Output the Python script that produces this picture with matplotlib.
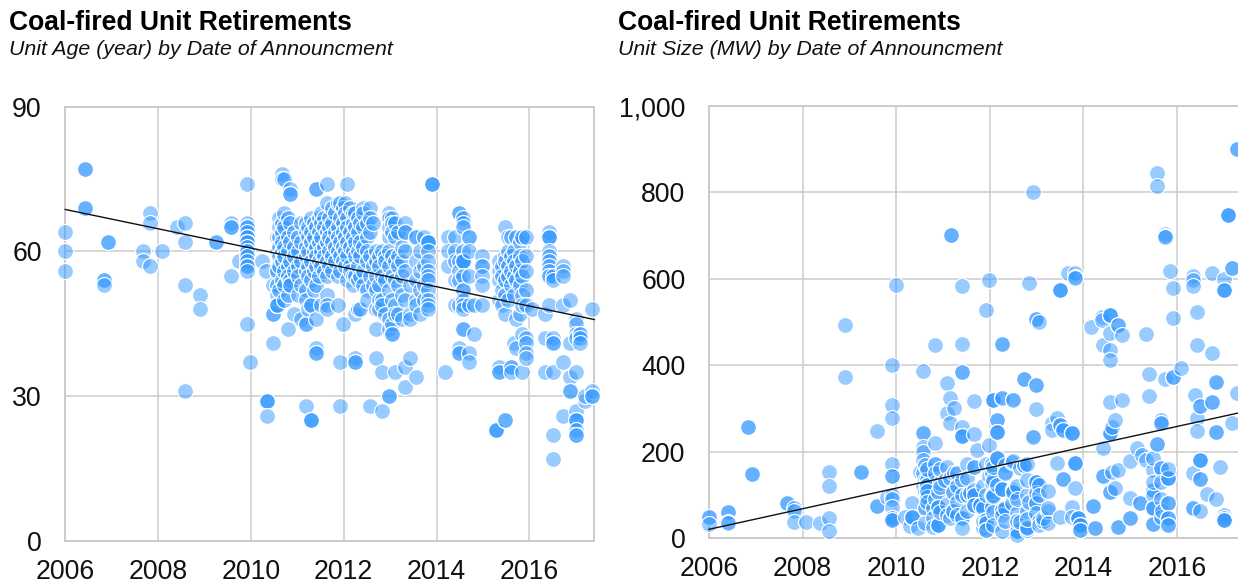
import numpy as np
import matplotlib.pyplot as plt

plt.rcParams['font.family'] = ['Liberation Sans', 'DejaVu Sans']

# =========================
# Data, one row per announcement date
# =========================
age_dates = [
    2006.0, 2006.42, 2006.83, 2006.91, 2007.67, 2007.83, 2008.08, 2008.4, 2008.57, 2008.9,
    2009.24, 2009.57, 2009.75, 2009.91, 2009.97, 2010.24, 2010.32, 2010.35, 2010.48, 2010.56,
    2010.6, 2010.66, 2010.72, 2010.79, 2010.84, 2010.93, 2011.02, 2011.08, 2011.18, 2011.24,
    2011.3, 2011.36, 2011.41, 2011.46, 2011.52, 2011.57, 2011.63, 2011.69, 2011.75, 2011.81,
    2011.87, 2011.92, 2011.98, 2012.03, 2012.08, 2012.14, 2012.19, 2012.25, 2012.3, 2012.36,
    2012.42, 2012.5, 2012.57, 2012.64, 2012.7, 2012.77, 2012.83, 2012.9, 2012.97, 2013.03,
    2013.1, 2013.17, 2013.26, 2013.32, 2013.43, 2013.56, 2013.64, 2013.74, 2013.82, 2013.9,
    2014.18, 2014.24, 2014.4, 2014.48, 2014.58, 2014.7, 2014.8, 2014.98, 2015.28, 2015.35,
    2015.42, 2015.48, 2015.54, 2015.6, 2015.66, 2015.72, 2015.79, 2015.85, 2015.92, 2016.05,
    2016.34, 2016.42, 2016.5, 2016.72, 2016.87, 2017.0, 2017.1, 2017.2, 2017.36,
]
age_years = [
    [64, 60, 56], [77, 77, 69, 69], [54, 54, 53], [62, 62], [60, 58], [68, 66, 57], [60], [65],
    [66, 62, 53, 31], [51, 48],
    [62, 62], [66, 65, 65, 55], [58],
    [74, 66, 65, 65, 64, 63, 63, 62, 62, 61, 60, 60, 59, 58, 57, 57, 56, 45],
    [37], [58], [56], [29, 29, 29, 26], [53, 47, 47, 41],
    [63, 60, 56, 56, 53, 51, 49, 49, 49],
    [67, 65, 63, 61, 59, 57, 52],
    [76, 75, 66, 64, 62, 60, 58, 54],
    [75, 68, 65, 61, 59, 56, 53, 50],
    [67, 63, 60, 57, 55, 51, 44],
    [73, 72, 72, 66, 62, 58, 54, 53, 53],
    [64, 61, 59, 56, 47],
    [63, 60, 57, 55, 51],
    [66, 62, 58, 53, 46],
    [66, 64, 61, 59, 56, 52, 50, 45, 45, 28],
    [65, 63, 60, 57, 55, 48],
    [67, 64, 62, 58, 54, 49, 49, 25, 25, 25],
    [66, 63, 60, 56, 52],
    [73, 73, 65, 61, 59, 57, 53, 46, 40, 39, 39],
    [67, 64, 62, 58, 55],
    [68, 66, 63, 60, 57, 49],
    [67, 65, 61, 59, 56],
    [74, 70, 64, 62, 58, 55, 51, 49, 48],
    [67, 65, 63, 60, 57],
    [69, 66, 62, 59, 56],
    [68, 64, 61, 58],
    [70, 65, 63, 60, 55, 49],
    [70, 67, 62, 59, 56, 37, 28],
    [69, 66, 64, 61, 58, 45],
    [70, 68, 63, 60, 57],
    [74, 67, 65, 62, 59, 54],
    [69, 64, 61, 57, 56],
    [68, 66, 63, 60, 55, 53],
    [68, 65, 62, 59, 55, 47, 38, 37, 37],
    [67, 64, 60, 57, 54, 48],
    [66, 62, 59, 55, 48],
    [69, 68, 65, 61, 56, 53],
    [66, 63, 60, 58, 52, 50],
    [69, 67, 64, 59, 55, 28],
    [66, 57, 53],
    [60, 58, 55, 52, 48, 44, 38],
    [59, 57, 53, 50, 48],
    [60, 55, 50, 49, 35, 27],
    [59, 58, 54, 47],
    [68, 67, 65, 63, 60, 57, 52, 46, 44, 30, 30],
    [67, 66, 64, 59, 55, 50, 45, 43, 43],
    [66, 63, 58, 54, 49, 47, 35],
    [64, 59, 57, 53, 47],
    [61, 58, 55, 51, 46],
    [66, 64, 64, 60, 56, 50, 36, 32],
    [38, 53, 47, 46],
    [63, 63, 58, 54, 50, 49, 34],
    [60, 56, 52, 47],
    [63, 57, 53, 50],
    [62, 62, 62, 62, 60, 58, 56, 55, 54, 52, 50, 49, 48],
    [74, 74, 74], [35], [63, 60, 57], [63, 60, 58, 54, 49],
    [68, 68, 58, 56, 54, 49, 40, 39, 39],
    [67, 66, 65, 60, 58, 58, 58, 58, 55, 52, 52, 50, 49, 48, 44, 44],
    [63, 63, 60, 55, 49, 39, 37], [49, 43], [59, 57, 57, 55, 53, 49],
    [23, 23, 23], [58, 56, 54, 50, 36, 35, 35],
    [57, 55, 52, 49], [65, 59, 58, 54, 51, 47, 25, 25], [63, 60, 57, 55, 50],
    [63, 59, 56, 53, 36, 36, 35], [60, 58, 55, 51, 41], [63, 57, 54, 46, 40],
    [62, 59, 56, 53, 47], [63, 63, 58, 55, 51, 49, 43, 35],
    [63, 59, 56, 52, 49, 42, 41, 39, 38],
    [48], [47, 42, 35], [64, 63, 63, 63, 60, 59, 58, 57, 56, 55, 55, 49],
    [55, 54, 42, 41, 41, 35, 22, 17], [57, 56, 55, 49, 37, 26],
    [50, 41, 34, 31, 31], [46, 45, 43, 42, 35, 27, 25, 25, 25, 23, 22, 22],
    [43, 43, 42, 41], [29, 30], [48, 31, 30, 30],
]

size_dates = [
    2006.0, 2006.4, 2006.83, 2006.92, 2007.67, 2007.82, 2008.07, 2008.37, 2008.57, 2008.9,
    2009.25, 2009.59, 2009.8, 2009.91, 2010.0, 2010.19, 2010.29, 2010.34, 2010.47, 2010.51,
    2010.57, 2010.62, 2010.66, 2010.79, 2010.83, 2010.89, 2010.94, 2011.04, 2011.09, 2011.15,
    2011.17, 2011.21, 2011.24, 2011.3, 2011.41, 2011.51, 2011.58, 2011.66, 2011.73, 2011.79,
    2011.85, 2011.92, 2011.98, 2012.05, 2012.07, 2012.15, 2012.26, 2012.32, 2012.47, 2012.5,
    2012.58, 2012.65, 2012.73, 2012.79, 2012.84, 2012.92, 2012.99, 2013.05, 2013.14, 2013.24,
    2013.33, 2013.44, 2013.5, 2013.56, 2013.67, 2013.76, 2013.82, 2013.88, 2013.93, 2014.16,
    2014.2, 2014.25, 2014.4, 2014.42, 2014.57, 2014.61, 2014.68, 2014.74, 2014.82, 2015.0,
    2015.15, 2015.21, 2015.25, 2015.34, 2015.4, 2015.49, 2015.57, 2015.66, 2015.68, 2015.74,
    2015.81, 2015.85, 2015.91, 2016.09, 2016.34, 2016.38, 2016.43, 2016.49, 2016.64, 2016.75,
    2016.83, 2016.92, 2017.0, 2017.09, 2017.18, 2017.29,
]
size_mw = [
    [50, 50, 32], [60, 60, 38, 35], [257, 257], [148, 148], [82, 82], [69, 64, 38], [38], [35],
    [154, 121, 46, 18], [493, 372],
    [154, 154], [248, 75, 75], [96], [402, 308, 278, 172, 143, 143, 100, 92, 73, 46, 46, 42, 42],
    [585], [50], [28], [81, 50, 50, 50], [23], [154],
    [387, 247, 243, 212, 200, 180, 150, 120], [170, 135, 69, 69, 35, 108],
    [135, 135, 123, 123, 123, 96, 96, 160, 110, 85], [69, 46, 27],
    [446, 220, 171, 171, 150, 90], [108, 73, 73, 73, 31, 31, 31], [127, 160, 118, 60], [135],
    [359, 289, 165, 80, 55], [324, 266, 139, 46], [702, 702], [108, 108, 63, 63], [302, 150], [150, 120, 85, 55],
    [584, 450, 384, 384, 258, 237, 237, 237, 135, 100, 46, 46, 23], [173, 100, 140, 62],
    [104, 104], [318, 241, 166, 166, 112, 100, 100, 77, 77], [204], [77, 77, 77], [23, 120, 70, 40],
    [527, 173, 100, 42, 42, 35, 19, 19], [597, 216, 143],
    [173, 150, 127, 100, 73], [320, 320, 320, 135, 100, 97, 165, 60, 30],
    [274, 274, 245, 245, 245, 185, 185, 185, 123], [450, 450, 326, 324, 115, 115, 115, 66, 66, 66, 54, 16],
    [170, 154, 70, 150, 40], [177, 81], [322, 320, 178, 112, 112, 108, 108], [58, 16, 16, 16, 8, 120, 90, 40],
    [162, 38], [369, 369, 170, 170], [173, 100, 62, 20, 20, 27, 23, 135, 45], [590, 85],
    [800, 237, 235], [507, 507, 355, 355, 299, 131, 131, 131, 104, 81, 81, 58], [500, 123, 39, 100, 30],
    [39, 48], [62, 110, 70, 35], [266, 250], [278, 174], [574, 574, 574, 262, 262, 50], [137, 137, 250, 250],
    [613], [243, 243, 243, 73, 50], [613, 605, 602, 174, 174, 174, 116], [46, 46, 46], [31, 31, 31, 20, 20],
    [489], [75, 75], [23, 23],
    [513, 505], [447, 210, 143, 143], [517, 517, 517, 474, 436, 413, 315, 243, 243, 243, 108, 108],
    [258, 154], [274, 116], [493, 493, 158, 27, 27], [470, 320], [178, 93, 46, 46],
    [208], [81, 81], [193], [472, 181], [380, 329], [158, 112, 112, 100, 70, 70, 70, 33, 33, 185, 130], [844, 815, 218, 218],
    [274, 266, 266, 162, 162, 130, 90, 50], [62], [705, 700, 696, 368], [139, 139, 139, 81, 81, 46, 46, 31, 31, 160], [618],
    [578, 510, 372, 372], [393], [607, 597, 583, 150, 70, 70], [332], [523, 447, 278, 249], [306, 306, 181, 181, 181, 137, 137, 62],
    [103], [613, 428, 316, 316], [361, 361, 245, 245, 90], [166], [600, 574, 574, 574, 54, 46, 43, 43, 43], [749, 749, 749], [626, 626, 266],
    [900, 900, 335],
]

age_trend_dates = [2006.0, 2017.4]
age_trend = [68.7, 45.9]
size_trend_dates = [2006.0, 2017.4]
size_trend = [20.8, 292]

x_ticks = [2006, 2008, 2010, 2012, 2014, 2016]
age_ticks = [0, 30, 60, 90]
size_ticks = [0, 200, 400, 600, 800, 1000]

W, H = 1238, 586
grid_color = '#cbcbcb'
dot_color = (0.2, 0.6, 1.0, 0.5)


def px_axes(fig, left, right, top, bottom):
    return fig.add_axes([left / W, 1 - bottom / H, (right - left) / W, (bottom - top) / H])


def draw_panel(ax, dates, values, trend_x, trend_y, y_max, y_ticks, y_labels):
    xs = np.repeat(dates, [len(v) for v in values])
    ys = np.concatenate(values)
    ax.scatter(xs, ys, s=132, facecolors=[dot_color], edgecolors='white', linewidths=0.85,
               clip_on=False, zorder=3)
    ax.plot(trend_x, trend_y, color='#111111', lw=1.0, zorder=4, clip_on=False)
    ax.set_xlim(2006, 2017.4)
    ax.set_ylim(0, y_max)
    ax.set_xticks(x_ticks)
    ax.set_yticks(y_ticks)
    ax.set_yticklabels(y_labels)
    ax.grid(True, color=grid_color, lw=1.1, zorder=0)
    ax.set_axisbelow(True)
    ax.tick_params(length=0, labelsize=19.2, labelcolor='#111111')
    ax.tick_params(axis='x', pad=13)
    ax.tick_params(axis='y', pad=17)
    for side in ax.spines:
        ax.spines[side].set_color(grid_color)
        ax.spines[side].set_linewidth(1.4)


fig = plt.figure(figsize=(W / 100, H / 100), dpi=100)

ax1 = px_axes(fig, 65.3, 594.3, 106.7, 541)
draw_panel(ax1, age_dates, age_years, age_trend_dates, age_trend, 90, age_ticks,
           [str(t) for t in age_ticks])

ax2 = px_axes(fig, 709, 1242.5, 106, 538.3)
draw_panel(ax2, size_dates, size_mw, size_trend_dates, size_trend, 1000, size_ticks,
           [f'{t:,}' for t in size_ticks])

for x0, sub in [(9, 'Unit Age (year) by Date of Announcment'), (618, 'Unit Size (MW) by Date of Announcment')]:
    fig.text(x0 / W, 1 - 30 / H, 'Coal-fired Unit Retirements', fontsize=19.1, fontweight='bold',
             color='black', ha='left', va='baseline')
    fig.text(x0 / W, 1 - 55 / H, sub, fontsize=15.4, style='italic', color='#111111',
             ha='left', va='baseline')

fig.savefig('out.png', dpi=100)
